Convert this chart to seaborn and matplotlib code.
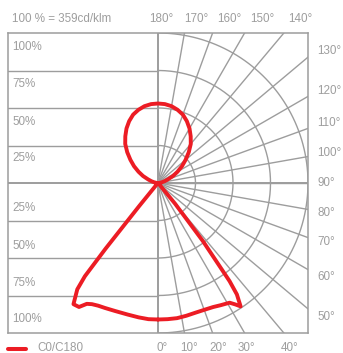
import numpy as np
import pandas as pd
import matplotlib
matplotlib.use("Agg")
import matplotlib.pyplot as plt
import seaborn as sns

sns.set_theme(style="white")
plt.rcParams['font.family'] = ['Liberation Sans', 'DejaVu Sans']

# Luminous intensity distribution, gamma angle (deg from nadir) vs % of 359 cd/klm
c0_angles = [0, 4, 8, 12, 16, 20, 24, 27, 30.9, 32.5, 33.8, 35.3, 36.1, 37.7, 39.5, 41, 45,
             50, 60, 70, 80, 90, 95, 100, 105, 110, 115, 120, 125, 130, 135, 140, 145,
             150, 155, 160, 165, 170, 175, 180]
c0_values = [91, 91, 91, 90.5, 90, 90, 90.5, 91.5, 93, 96, 99, 91, 81, 49, 18, 2, 1,
             1, 1, 1, 1, 0.5, 1, 2.5, 4.5, 7, 11, 15, 19.5, 24, 29, 34, 38,
             42, 45.5, 48.5, 50.5, 52, 52.8, 53]

c180_angles = [0, 4, 8.2, 13, 18.5, 23, 26, 28.6, 30.5, 32.5, 34.9, 37.2, 38.1, 38.6, 39.2, 42,
               45, 50, 60, 70, 80, 90, 95, 100, 105, 110, 115, 120, 125, 130, 135, 140, 145,
               150, 155, 160, 165, 170, 175, 180]
c180_values = [91, 91, 90.5, 90, 90, 90.5, 91, 92, 93.5, 98, 98.5, 89, 79, 56, 20, 1,
               1, 1, 1, 1, 1, 0.5, 1, 2.5, 4.5, 7, 11, 15, 19.5, 24, 29, 34, 38,
               42, 45.5, 48.5, 50.5, 52, 52.8, 53]

left_labels = ["100%", "75%", "50%", "25%", "25%", "50%", "75%", "100%"]
top_labels = ["180°", "170°", "160°", "150°", "140°"]
right_labels = ["130°", "120°", "110°", "100°", "90°", "80°", "70°", "60°", "50°"]
bottom_labels = ["0°", "10°", "20°", "30°", "40°"]
header = "100 % = 359cd/klm"
legend_label = "C0/C180"

RED = "#ec1c24"
GRID = "#9d9d9d"
TEXT = "#9e9e9e"

W, H = 343, 353
fig = plt.figure(figsize=(W / 100, H / 100), dpi=100)
ax = fig.add_axes([8 / W, 20 / H, 300 / W, 300 / H])
ax.set_xlim(-100, 100)
ax.set_ylim(-100, 100)
ax.set_xticks([])
ax.set_yticks([])
for s in ax.spines.values():
    s.set_color(GRID)
    s.set_linewidth(1.1)

# left half: horizontal percentage bands
for y in [-75, -50, -25, 25, 50, 75]:
    ax.plot([-100, 0], [y, y], color=GRID, lw=1.0, zorder=1)
ax.axhline(0, color=GRID, lw=1.4, zorder=1)
ax.axvline(0, color=GRID, lw=1.4, zorder=1)

# right half: polar grid
t = np.linspace(-np.pi / 2, np.pi / 2, 200)
for r in [25, 50, 75, 100]:
    ax.plot(r * np.cos(t), r * np.sin(t), color=GRID, lw=1.0, zorder=1)
for g in range(10, 180, 10):
    gr = np.radians(g)
    ax.plot([0, 300 * np.sin(gr)], [0, -300 * np.cos(gr)], color=GRID, lw=1.0, zorder=1)

# intensity curve: C0 on the right, C180 on the left, closed through the zenith
a0 = np.radians(c0_angles)
a180 = np.radians(c180_angles)[::-1]
v180 = np.array(c180_values)[::-1]
curve = pd.DataFrame({
    "x": np.concatenate([np.array(c0_values) * np.sin(a0), -v180 * np.sin(a180)]),
    "y": np.concatenate([-np.array(c0_values) * np.cos(a0), -v180 * np.cos(a180)]),
})
sns.lineplot(data=curve, x="x", y="y", sort=False, estimator=None, color=RED,
             lw=2.8, ax=ax, zorder=3)
ax.lines[-1].set_solid_joinstyle("round")
ax.set_xlabel("")
ax.set_ylabel("")


def put(px, py, s, ha="left"):
    fig.text(px / W, 1 - py / H, s, ha=ha, va="center", fontsize=8.4, color=TEXT)


put(12, 19, header)
for s, x in zip(top_labels, [161, 196, 229, 262, 300]):
    put(x, 19, s, ha="center")
for s, y in zip(right_labels, [51, 91, 123, 153, 183, 213, 242, 277, 317]):
    put(317, y, s)
for s, x in zip(bottom_labels, [162, 189, 218, 246, 290]):
    put(x, 348, s, ha="center")
for s, y in zip(left_labels, [47, 84, 122, 158, 208, 246, 283, 319]):
    put(12, y, s)

# legend
fig.add_artist(plt.Line2D([8 / W, 26 / W], [1 - 348.5 / H, 1 - 348.5 / H], color=RED, lw=2.9))
put(37, 348, legend_label)

fig.savefig("out.png", dpi=100)
